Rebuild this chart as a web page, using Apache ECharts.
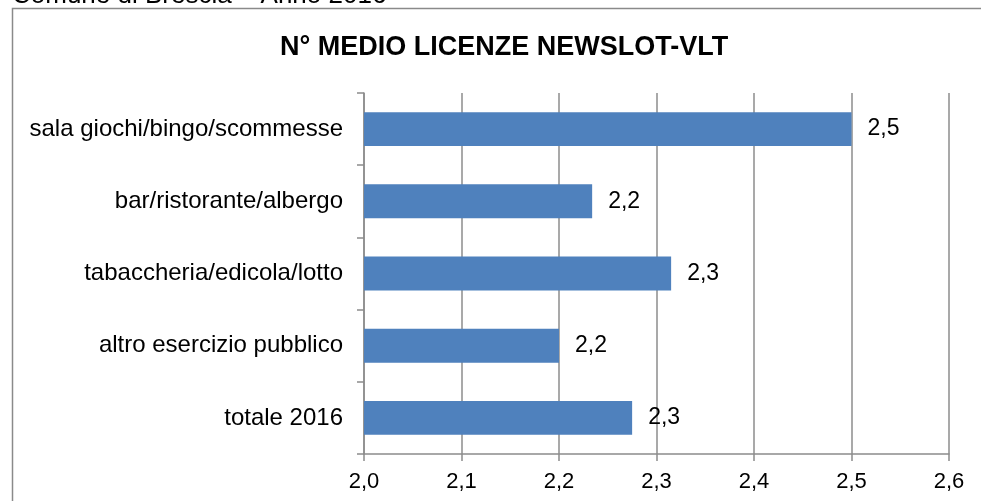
<!DOCTYPE html>
<html>
<head>
<meta charset="utf-8">
<script src="https://cdn.jsdelivr.net/npm/echarts@6/dist/echarts.min.js"></script>
<style>
  html, body { margin: 0; padding: 0; background: #fff; }
  #chart { width: 981px; height: 501px; }
</style>
</head>
<body>
<div id="chart"></div>
<script>
// categorie (dall'alto verso il basso)
var categories = [
  "sala giochi/bingo/scommesse",
  "bar/ristorante/albergo",
  "tabaccheria/edicola/lotto",
  "altro esercizio pubblico",
  "totale 2016"
];
// n° medio licenze
var values = [2.50, 2.234, 2.315, 2.20, 2.275];
var xTicks = { min: 2.0, max: 2.6, step: 0.1 };

var FONT = "'Liberation Sans', Arial, sans-serif";
var fmt = function (v) { return Number(v).toFixed(1).replace(".", ","); };

var myChart = echarts.init(document.getElementById("chart"), null, { renderer: "canvas" });
myChart.setOption({
  animation: false,
  backgroundColor: "#ffffff",
  title: {
    text: "N° MEDIO LICENZE NEWSLOT-VLT",
    left: 280,
    top: 34,
    padding: 0,
    textStyle: { fontFamily: FONT, fontSize: 27, fontWeight: "bold", color: "#000" }
  },
  graphic: [
    {
      type: "rect",
      shape: { x: 12.5, y: 8.5, width: 1000, height: 600 },
      style: { fill: "none", stroke: "#8a8a8a", lineWidth: 1.5 },
      silent: true
    },
    {
      type: "text",
      x: 12,
      y: -4,
      style: {
        text: "Comune di Brescia – Anno 2016",
        font: "26px " + FONT,
        fill: "#000",
        verticalAlign: "middle"
      },
      silent: true
    }
  ],
  grid: { left: 364, right: 32, top: 93, bottom: 47, containLabel: false },
  xAxis: {
    type: "value",
    min: xTicks.min,
    max: xTicks.max,
    interval: xTicks.step,
    axisLine: { show: true, lineStyle: { color: "#8c8c8c", width: 1.5 } },
    axisTick: { show: true, length: 7, lineStyle: { color: "#8c8c8c", width: 1.5 } },
    axisLabel: { formatter: fmt, color: "#000", fontFamily: FONT, fontSize: 22, margin: 17 },
    splitLine: { show: true, lineStyle: { color: "#8c8c8c", width: 1.5 } }
  },
  yAxis: {
    type: "category",
    data: categories,
    inverse: true,
    axisLine: { show: true, lineStyle: { color: "#8c8c8c", width: 1.5 } },
    axisTick: { show: true, length: 7, lineStyle: { color: "#8c8c8c", width: 1.5 } },
    axisLabel: { color: "#000", fontFamily: FONT, fontSize: 24, margin: 21 },
    splitLine: { show: false }
  },
  series: [
    {
      type: "bar",
      data: values,
      barCategoryGap: "53%",
      itemStyle: { color: "#4f81bd" },
      label: {
        show: true,
        position: "right",
        distance: 16,
        formatter: function (p) { return fmt(p.value); },
        color: "#000",
        fontFamily: FONT,
        fontSize: 23
      }
    }
  ]
});
</script>
</body>
</html>
